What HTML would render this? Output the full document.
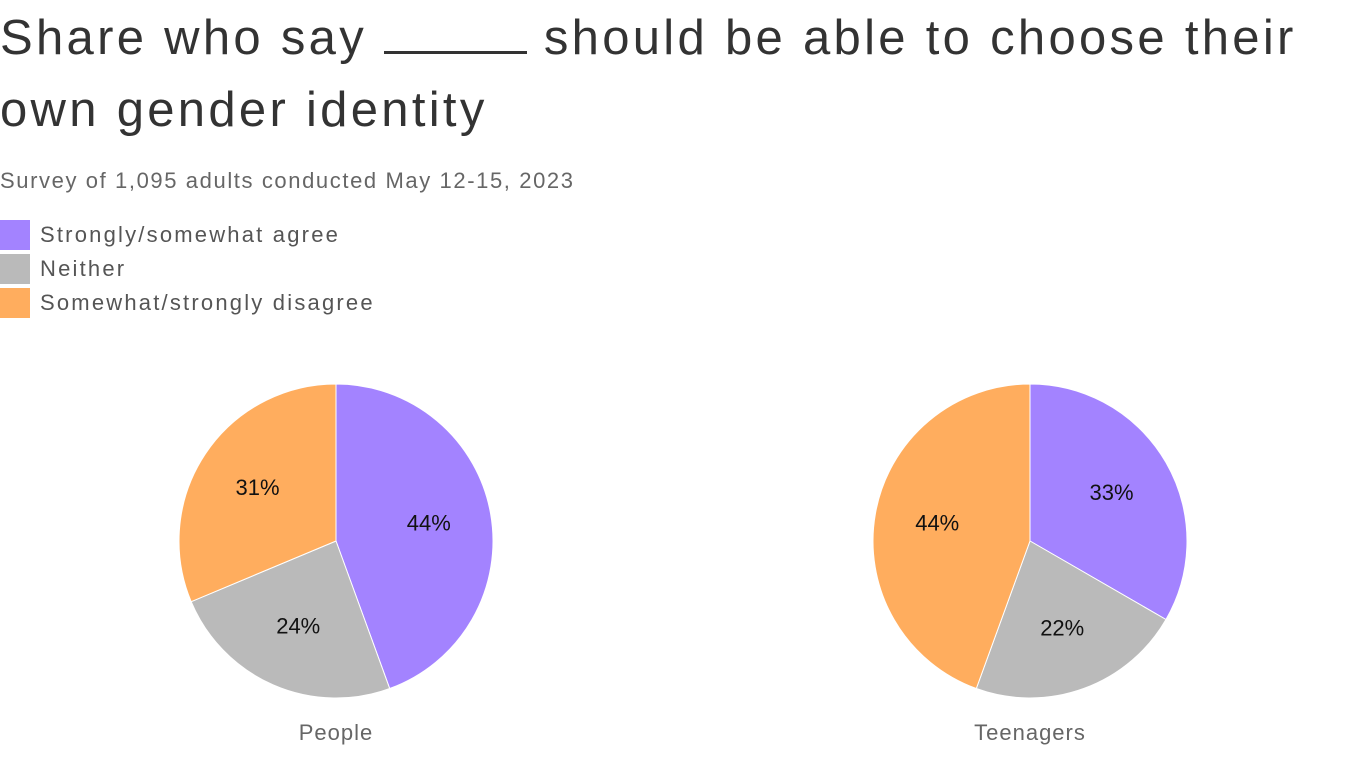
<!DOCTYPE html>
<html><head><meta charset="utf-8"><style>
body{margin:0;width:1366px;height:768px;background:#fff;font-family:"Liberation Sans",sans-serif;color:#333;overflow:hidden;position:relative}
.t{position:absolute;left:0;top:2px;font-size:49px;line-height:72px;color:#333;letter-spacing:3.3px;white-space:nowrap}
.s{position:absolute;left:0;top:168px;font-size:22px;color:#666;letter-spacing:1.6px}
.lg{position:absolute;left:0;font-size:22px;color:#555;height:30px;line-height:30px;letter-spacing:2.2px}
.sw{display:inline-block;width:30px;height:30px;vertical-align:top;margin-right:10px}
</style></head><body>
<div class="t">Share who say <span style="display:inline-block;width:143px;border-bottom:3px solid #333;height:40px;vertical-align:baseline"></span> should be able to choose their<br>own gender identity</div>
<div class="s">Survey of 1,095 adults conducted May 12-15, 2023</div>
<div class="lg" style="top:220px"><span class="sw" style="background:#a383ff"></span>Strongly/somewhat agree</div>
<div class="lg" style="top:254px"><span class="sw" style="background:#bababa"></span>Neither</div>
<div class="lg" style="top:288px"><span class="sw" style="background:#ffad5e"></span>Somewhat/strongly disagree</div>
<svg id="c" width="1366" height="768" style="position:absolute;left:0;top:0"></svg>
<script>
const groups=["People","Teenagers"];
const categories=["Strongly/somewhat agree","Neither","Somewhat/strongly disagree"];
const peopleValues=[44,24,31];
const teenValues=[33,22,44];
const colors=["#a383ff","#bababa","#ffad5e"];
const svg=document.getElementById('c');
const NS='http://www.w3.org/2000/svg';
function pie(vals,cx,cy,r,name,gi){
  const tot=vals.reduce((a,b)=>a+b,0);let a0=0;
  vals.forEach((v,i)=>{
    const a1=a0+v/tot*2*Math.PI;
    const p=(a)=>[cx+r*Math.sin(a),cy-r*Math.cos(a)];
    const [x0,y0]=p(a0),[x1,y1]=p(a1);
    const path=document.createElementNS(NS,'path');
    path.setAttribute('d',`M${cx},${cy}L${x0},${y0}A${r},${r} 0 ${a1-a0>Math.PI?1:0} 1 ${x1},${y1}Z`);
    path.setAttribute('fill',colors[i]);path.setAttribute('stroke','#fff');path.setAttribute('stroke-width','1');
    
    
    svg.appendChild(path);
    const am=(a0+a1)/2,lr=r*0.6;
    const t=document.createElementNS(NS,'text');
    t.setAttribute('x',cx+lr*Math.sin(am));t.setAttribute('y',cy-lr*Math.cos(am)+6);
    t.setAttribute('text-anchor','middle');t.setAttribute('font-size','22');t.setAttribute('fill','#111');
    t.setAttribute('font-family','Liberation Sans, sans-serif');
    t.textContent=v+'%';
    
    
    svg.appendChild(t);
    a0=a1;
  });
  const l=document.createElementNS(NS,'text');
  l.setAttribute('x',cx);l.setAttribute('y',740);l.setAttribute('text-anchor','middle');
  l.setAttribute('font-size','22');l.setAttribute('fill','#666');l.setAttribute('font-family','Liberation Sans, sans-serif');
  l.setAttribute('letter-spacing','1');
  l.textContent=name;
  
  
  svg.appendChild(l);
}
pie(peopleValues,336,541,157,groups[0],0);
pie(teenValues,1030,541,157,groups[1],1);
</script>
</body></html>
